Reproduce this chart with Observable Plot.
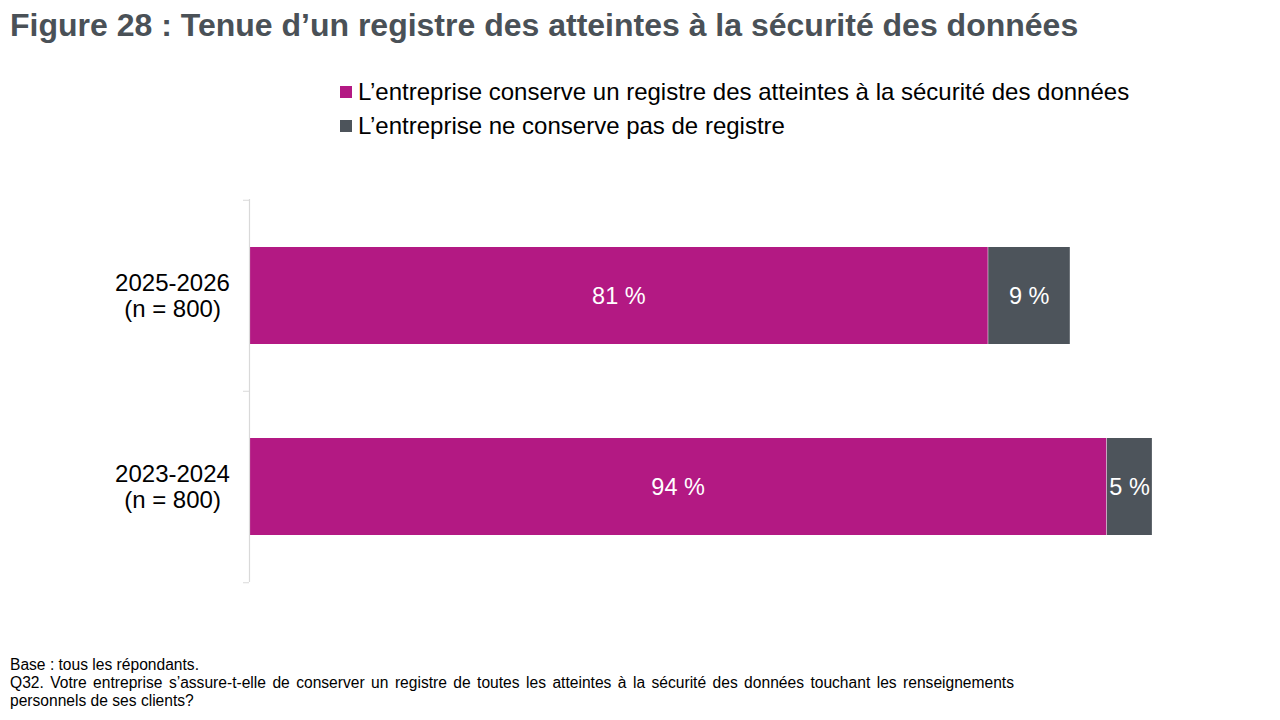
<!DOCTYPE html>
<html lang="fr">
<head>
<meta charset="utf-8">
<script src="https://cdn.jsdelivr.net/npm/d3@7"></script>
<script src="https://cdn.jsdelivr.net/npm/@observablehq/plot@0.6"></script>
<style>
  html, body { margin: 0; padding: 0; background: #fff; }
  body { width: 1280px; height: 720px; position: relative; overflow: hidden; font-family: "Liberation Sans", Arial, sans-serif; }
  #title { position: absolute; left: 10px; top: 7px; font-size: 32px; font-weight: bold; color: #4A5157; white-space: nowrap; }
  #legend { position: absolute; left: 340px; top: 75px; font-size: 24px; color: #000; }
  .li { display: flex; align-items: center; height: 34px; white-space: nowrap; }
  .sw { width: 12px; height: 12px; margin-right: 6px; display: inline-block; }
  #chart { position: absolute; left: 0; top: 180px; }
  #foot { position: absolute; left: 10px; top: 656px; width: 1004px; font-size: 15.6px; line-height: 18px; color: #000; text-align: justify; text-align-last: left; }
</style>
</head>
<body>
<div id="title">Figure 28 : Tenue d’un registre des atteintes à la sécurité des données</div>
<div id="legend"></div>
<div id="chart"></div>
<div id="foot">Base : tous les répondants.<br>Q32. Votre entreprise s’assure-t-elle de conserver un registre de toutes les atteintes à la sécurité des données touchant les renseignements personnels de ses clients?</div>
<script>
const periods = ["2025-2026", "2023-2024"];
const sampleSizes = ["(n = 800)", "(n = 800)"];
const seriesNames = [
  "L’entreprise conserve un registre des atteintes à la sécurité des données",
  "L’entreprise ne conserve pas de registre"
];
const seriesColors = ["#B31983", "#4D545B"];
const keepsRegister = [81, 94];
const noRegister = [9, 5];

const data = [];
periods.forEach((p, i) => {
  data.push({period: p, series: seriesNames[0], value: keepsRegister[i]});
  data.push({period: p, series: seriesNames[1], value: noRegister[i]});
});

// legend
const legend = document.getElementById("legend");
seriesNames.forEach((s, i) => {
  const row = document.createElement("div");
  row.className = "li";
  row.innerHTML = `<span class="sw" style="background:${seriesColors[i]}"></span><span>${s}</span>`;
  legend.appendChild(row);
});

const W = 1280, H = 420, mT = 19, mB = 18, mL = 249, mR = 119;
const step = (H - mT - mB) / periods.length;
const labelFor = p => p + "\n" + sampleSizes[periods.indexOf(p)];

const chart = Plot.plot({
  width: W,
  height: H,
  marginTop: mT,
  marginBottom: mB,
  marginLeft: mL,
  marginRight: mR,
  style: {fontFamily: "'Liberation Sans', Arial, sans-serif", fontSize: "24px", color: "#000", background: "transparent"},
  x: {domain: [0, 100], axis: null},
  y: {domain: periods, paddingInner: 0.493, paddingOuter: 0.2465, label: null},
  color: {domain: seriesNames, range: seriesColors},
  marks: [
    Plot.barX(data, Plot.stackX({x: "value", y: "period", fill: "series", order: seriesNames, insetLeft: 0.5})),
    Plot.text(data, Plot.stackX({x: "value", y: "period", z: "series", order: seriesNames, text: d => d.value + " %", fill: "#fff", fontSize: 23.5})),
    Plot.ruleX([0], {stroke: "#D9D9D9", strokeWidth: 1.2}),
    Plot.ruleY(periods, {y: d => d, dy: -step / 2, x: 0, stroke: "#D9D9D9", insetLeft: -6}),
    Plot.ruleY([periods[periods.length - 1]], {y: d => d, dy: step / 2, x: 0, stroke: "#D9D9D9", insetLeft: -6}),
    Plot.axisY({tickSize: 0, tickPadding: 0, textAnchor: "middle", dx: -77, lineHeight: 1.05, tickFormat: labelFor, fontSize: 24, fill: "#000", label: null})
  ]
});
document.getElementById("chart").appendChild(chart);
</script>
</body>
</html>
